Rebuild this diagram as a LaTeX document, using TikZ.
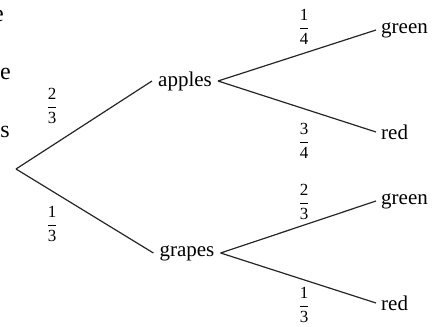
\documentclass[tikz,border=0pt]{standalone}
\usepackage{amsmath}
\usepackage{fontspec}
\setmainfont{Liberation Serif}
\newcommand{\fr}[2]{$\genfrac{}{}{0.9pt}{0}{\mbox{#1}}{\mbox{#2}}$}
\tikzset{
  lbl/.style={font=\fontsize{21}{24}\selectfont, inner xsep=6pt, inner ysep=2pt},
  prob/.style={font=\fontsize{17}{20}\selectfont, inner sep=0pt},
  cut/.style={font=\fontsize{24}{28}\selectfont, inner sep=0pt, anchor=base east},
  branch/.style={line width=1.2pt, black!85}
}
\begin{document}
\begin{tikzpicture}[x=1pt,y=-1pt]
\clip (0,0) rectangle (435,326);
\fill[white] (0,0) rectangle (435,326);
% cut-off text on the left edge
\node[cut] (c1) at (4,22) {e};
\node[cut] (c2) at (11,80) {e};
\node[cut] (c3) at (10,137) {s};
% tree nodes
\coordinate (root) at (16,169);
\node[lbl] (apples) at (185,81) {apples};
\node[lbl] (grapes) at (187,253) {grapes};
\node[lbl, anchor=west, inner xsep=5pt] (ag) at (376,30) {green};
\node[lbl, anchor=west, inner xsep=5pt] (ar) at (376,132) {red};
\node[lbl, anchor=west, inner xsep=5pt] (gg) at (376,201) {green};
\node[lbl, anchor=west, inner xsep=5pt] (gr) at (376,303) {red};
% branches
\draw[branch] (root) -- (apples.west);
\draw[branch] (root) -- (grapes.west);
\draw[branch] (apples.east) -- (ag.west);
\draw[branch] (apples.east) -- (ar.west);
\draw[branch] (grapes.east) -- (gg.west);
\draw[branch] (grapes.east) -- (gr.west);
% probabilities
\node[prob] (p1) at (52,106) {\fr{2}{3}};
\node[prob] (p2) at (52,224) {\fr{1}{3}};
\node[prob] (p3) at (304,27) {\fr{1}{4}};
\node[prob] (p4) at (304,141) {\fr{3}{4}};
\node[prob] (p5) at (304,202) {\fr{2}{3}};
\node[prob] (p6) at (304,305) {\fr{1}{3}};
\end{tikzpicture}
\end{document}
